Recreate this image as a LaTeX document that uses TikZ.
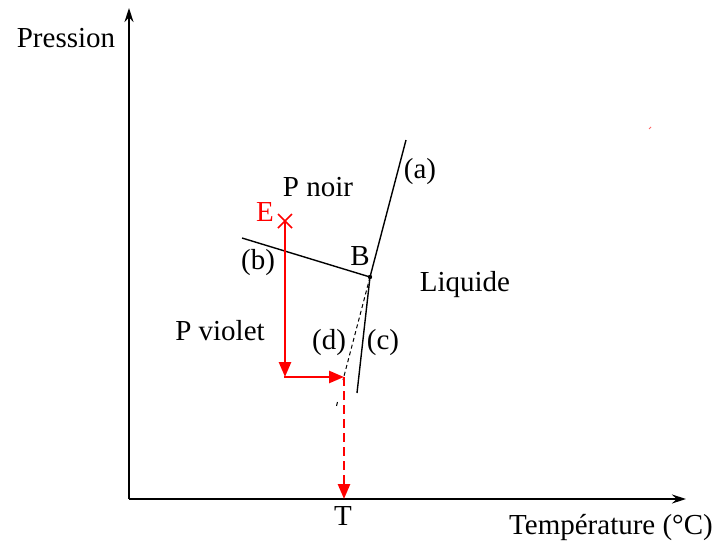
\documentclass[tikz,border=0pt]{standalone}
\usepackage{fontspec}
\setmainfont{Liberation Serif}
\usetikzlibrary{arrows.meta,calc}
\begin{document}
\begin{tikzpicture}[x=1pt,y=-1pt,
  lbl/.style={font=\fontsize{29}{32}\selectfont, inner sep=0pt},
  axis/.style={line width=1.3pt, -{Stealth[length=14pt,width=9pt]}},
  phase/.style={line width=1.4pt},
  dashd/.style={line width=1pt, dash pattern=on 4pt off 3pt},
  redarr/.style={red, line width=2.6pt, -{Triangle[length=15pt,width=12pt]}},
  ]
\useasboundingbox (0,0) rectangle (721,544);
% axes
\coordinate (O) at (129,499);
\coordinate (Ytop) at (129,8);
\coordinate (Xend) at (686,499);
\draw[axis] (O) -- (Ytop);
\draw[axis] (O) -- (Xend);
% phase lines
\coordinate (B) at (370,277);
\coordinate (Atop) at (406,140);
\coordinate (Cbot) at (357,393);
\coordinate (Bleft) at (242,238);
\coordinate (Dmid) at (343,380);
\coordinate (Ds) at (337.5,402);
\coordinate (De) at (336,408);
\draw[phase] (Atop) -- (B) -- (Cbot);
\draw[phase] (Bleft) -- (B);
\draw[dashd] (B) -- (Dmid);
\draw[dashd] (Ds) -- (De);
\fill (B) circle (2.2pt);
% red path
\coordinate (E) at (285,221);
\coordinate (P1) at (285,377);
\coordinate (P2) at (344,377);
\coordinate (Tpt) at (344,499);
\draw[red, line width=1.6pt] ($(E)+(-7,-7)$) -- ($(E)+(7,7)$) ($(E)+(-7,7)$) -- ($(E)+(7,-7)$);
\draw[redarr] (E) -- (P1);
\draw[red, line width=2.6pt] (P1) -- ++(-1.3,0);
\draw[redarr] (P1) -- (P2);
\draw[redarr, dash pattern=on 9pt off 5pt] (P2) -- (Tpt);
% tiny red mark
\draw[red!60, line width=1pt] (649,129) -- (651,127);
% labels
\node[lbl] (pression) at (66,38) {Pression};
\node[lbl] (temp) at (611,527) {Température (°C)};
\node[lbl] (T) at (343,516) {T};
\node[lbl] (pnoir) at (318,187) {P noir};
\node[lbl] (a) at (420,172) {(a)};
\node[lbl, red] (Elbl) at (265,212) {E};
\node[lbl] (b) at (258,263) {(b)};
\node[lbl] (Blbl) at (360,256) {B};
\node[lbl] (liq) at (465,285) {Liquide};
\node[lbl] (pviolet) at (220,331) {P violet};
\node[lbl] (d) at (329,343) {(d)};
\node[lbl] (c) at (383,343) {(c)};
\end{tikzpicture}
\end{document}
